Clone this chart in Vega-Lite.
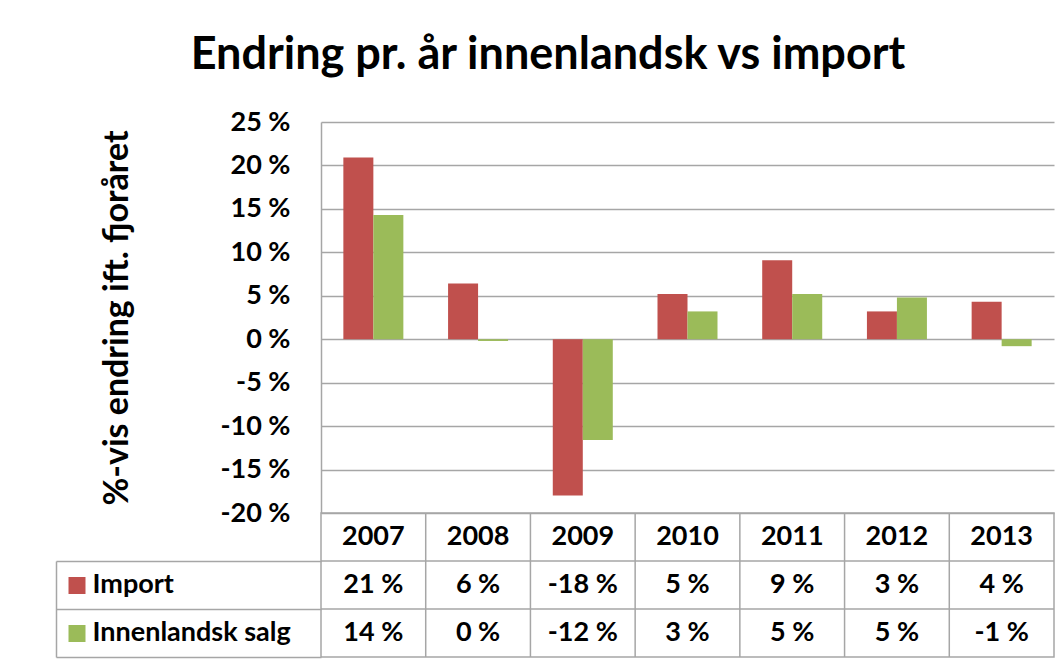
{
  "$schema": "https://vega.github.io/schema/vega-lite/v6.json",
  "padding": {"left": 54, "top": 33, "right": 5, "bottom": 5},
  "background": "white",
  "config": {
    "font": "Lato",
    "view": {"stroke": null},
    "locale": {"number": {"decimal": ",", "thousands": " ", "grouping": [3], "currency": ["", " kr"], "percent": " %", "minus": "-"}},
    "axis": {"labelFont": "Lato", "labelFontWeight": "bold", "labelColor": "black", "labelFontSize": 27, "gridColor": "#a6a6a6", "gridWidth": 1.5, "domainColor": "#a6a6a6", "domainWidth": 1.5, "tickColor": "#a6a6a6", "tickWidth": 1.5}
  },
  "title": {"text": "Endring pr. år innenlandsk vs import", "fontSize": 45, "fontWeight": "bold", "font": "Lato", "color": "black", "anchor": "middle", "offset": 30, "dx": -7},
  "datasets": {
    "main": [
      {"year": "2007", "series": "Import", "value": 0.209},
      {"year": "2007", "series": "Innenlandsk salg", "value": 0.143},
      {"year": "2008", "series": "Import", "value": 0.064},
      {"year": "2008", "series": "Innenlandsk salg", "value": -0.002},
      {"year": "2009", "series": "Import", "value": -0.180},
      {"year": "2009", "series": "Innenlandsk salg", "value": -0.116},
      {"year": "2010", "series": "Import", "value": 0.052},
      {"year": "2010", "series": "Innenlandsk salg", "value": 0.032},
      {"year": "2011", "series": "Import", "value": 0.091},
      {"year": "2011", "series": "Innenlandsk salg", "value": 0.052},
      {"year": "2012", "series": "Import", "value": 0.032},
      {"year": "2012", "series": "Innenlandsk salg", "value": 0.048},
      {"year": "2013", "series": "Import", "value": 0.043},
      {"year": "2013", "series": "Innenlandsk salg", "value": -0.008}
    ]
  },
  "spacing": 0,
  "bounds": "flush",
  "resolve": {"scale": {"x": "independent", "y": "independent"}},
  "vconcat": [
    {
      "width": 733,
      "height": 391,
      "data": {"name": "main"},
      "mark": {"type": "bar"},
      "encoding": {
        "x": {"field": "year", "type": "nominal", "scale": {"paddingInner": 0.427, "paddingOuter": 0.2135}, "axis": null},
        "xOffset": {"field": "series", "type": "nominal", "scale": {"domain": ["Import", "Innenlandsk salg"], "paddingInner": 0, "paddingOuter": 0}},
        "y": {
          "field": "value", "type": "quantitative",
          "scale": {"domain": [-0.2, 0.25], "nice": false, "zero": false},
          "axis": {
            "values": [-0.2, -0.15, -0.1, -0.05, 0, 0.05, 0.1, 0.15, 0.2, 0.25],
            "format": ".0%",
            "title": "%-vis endring ift. fjoråret",
            "titleFontSize": 34, "titleFont": "Lato", "titleFontWeight": "bold", "titleColor": "black",
            "titlePadding": 85,
            "ticks": false, "labelPadding": 31, "domain": true, "grid": true
          }
        },
        "color": {"field": "series", "type": "nominal", "scale": {"domain": ["Import", "Innenlandsk salg"], "range": ["#C0504D", "#9BBB59"]}, "legend": null}
      }
    },
    {
      "width": 733,
      "height": 144,
      "data": {"name": "main"},
      "view": {"stroke": "#a6a6a6", "strokeWidth": 1.5},
      "resolve": {"axis": {"y": "independent"}},
      "layer": [
        {
          "transform": [{"filter": "datum.series === 'Import' && datum.year !== '2007'"}],
          "mark": {"type": "rule", "color": "#a6a6a6", "strokeWidth": 1.5},
          "encoding": {
            "x": {"field": "year", "type": "nominal", "bandPosition": 0, "scale": {"paddingInner": 0, "paddingOuter": 0}, "axis": null}
          }
        },
        {
          "transform": [{"filter": "datum.year === '2007'"}],
          "mark": {"type": "rule", "color": "#a6a6a6", "strokeWidth": 1.5},
          "encoding": {
            "y": {"field": "series", "type": "nominal", "bandPosition": 0, "axis": null}
          }
        },
        {
          "mark": {"type": "text", "fontSize": 27, "fontWeight": "bold", "font": "Lato", "color": "black"},
          "encoding": {
            "x": {"field": "year", "type": "nominal", "axis": null},
            "y": {"field": "series", "type": "nominal", "scale": {"domain": ["Year", "Import", "Innenlandsk salg"], "paddingInner": 0, "paddingOuter": 0},
              "axis": {
                "orient": "left", "title": null, "bandPosition": 1, "ticks": true, "tickSize": 265,
                "grid": false, "domain": false,
                "labelAlign": "left", "labelPadding": -36, "labelFontSize": 27, "labelLimit": 400,
                "labelExpr": "datum.value === 'Year' ? '' : datum.label"
              }},
            "text": {"field": "value", "type": "quantitative", "format": ".0%"}
          }
        },
        {
          "transform": [{"filter": "datum.series === 'Import'"}],
          "mark": {"type": "text", "fontSize": 27, "fontWeight": "bold", "font": "Lato", "color": "black"},
          "encoding": {
            "x": {"field": "year", "type": "nominal", "axis": null},
            "y": {"datum": "Year", "type": "nominal",
              "axis": {
                "orient": "left", "title": null, "offset": 236, "domain": false, "labels": false, "grid": false,
                "ticks": true, "tickSize": 17, "tickWidth": 17,
                "tickColor": {"condition": [{"test": "datum.value === 'Import'", "value": "#C0504D"}, {"test": "datum.value === 'Innenlandsk salg'", "value": "#9BBB59"}], "value": "transparent"}
              }},
            "text": {"field": "year", "type": "nominal"}
          }
        },
        {
          "mark": {"type": "text", "text": ""},
          "encoding": {
            "x": {"field": "year", "type": "nominal", "axis": null},
            "y": {"field": "series", "type": "nominal",
              "axis": {"orient": "left", "title": null, "offset": 265, "domain": true, "domainDash": [0, 48, 200], "ticks": false, "labels": false, "grid": false}}
          }
        }
      ]
    }
  ]
}
